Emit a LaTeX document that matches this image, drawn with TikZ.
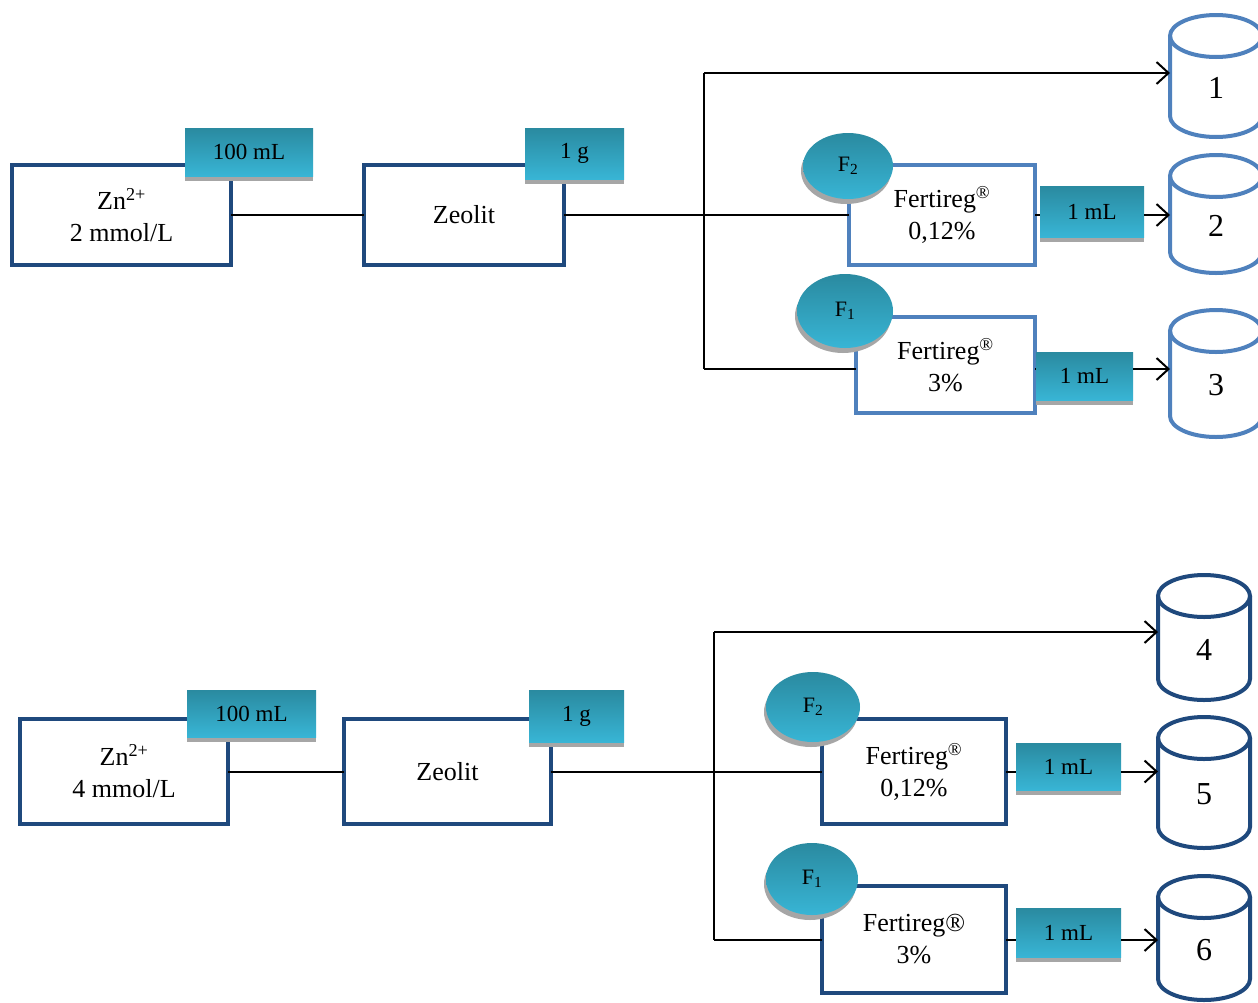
\documentclass[tikz,border=0pt]{standalone}
\usepackage{fontspec}
\setmainfont{Liberation Serif}
\usetikzlibrary{shapes.geometric,shadows,arrows.meta}
\definecolor{dblue}{HTML}{1F497D}
\definecolor{lblue}{HTML}{4F81BD}
\definecolor{tagtop}{HTML}{2A8AA0}
\definecolor{tagbot}{HTML}{38B5D5}
\definecolor{shad}{HTML}{A6A6A6}
\tikzset{
 box/.style={draw, line width=4pt, fill=white, align=center, inner sep=0pt, outer sep=0pt, font=\fontsize{26}{32}\selectfont},
 tag/.style={top color=tagtop, bottom color=tagbot, draw=none, inner sep=0pt, outer sep=0pt, font=\fontsize{23}{26}\selectfont, drop shadow={shadow xshift=0pt, shadow yshift=-5pt, fill=shad, opacity=1}},
 fell/.style={ellipse, top color=tagtop, bottom color=tagbot, draw=none, inner sep=0pt, outer sep=0pt, font=\fontsize{22}{24}\selectfont, drop shadow={shadow xshift=-2pt, shadow yshift=-5pt, fill=shad, opacity=1}},
 conn/.style={line width=2pt, black},
 arr/.style={line width=2pt, black, -{Straight Barb[length=12pt,width=22pt,line width=2pt]}},
 cylline/.style={line width=4pt},
 cyllab/.style={inner sep=0pt, outer sep=0pt, minimum width=92pt, minimum height=30pt, font=\fontsize{32}{34}\selectfont},
}
\newcommand\drawcyl[6]{%
  \pgfmathsetmacro\cylcx{#2+46}%
  \pgfmathsetmacro\cyltop{#3+21}%
  \pgfmathsetmacro\cylbot{#4-21}%
  \pgfmathsetmacro\cylrx{#2+92}%
  \pgfmathsetmacro\cylmid{(#3+#4)/2+12}%
  \draw[cylline,#6] (#2,\cyltop) -- (#2,\cylbot) arc[start angle=180,end angle=0,x radius=46,y radius=21] -- (\cylrx,\cyltop);
  \draw[cylline,#6] (\cylcx,\cyltop) ellipse[x radius=46,y radius=21];
  \node[cyllab] (#1) at (\cylcx,\cylmid) {#5};
}
\begin{document}
\begin{tikzpicture}[x=1pt,y=-1pt]
\fill[white] (0,0) rectangle (1258,1002);
\useasboundingbox (0,0) rectangle (1258,1002);

% ---------- top section ----------
\node[box, draw=dblue, minimum width=219pt, minimum height=100pt] (zn1) at (121.5,215) {Zn\textsuperscript{2+}\\2 mmol/L};
\node[box, draw=dblue, minimum width=200pt, minimum height=100pt] (zeo1) at (464,215) {Zeolit};
\node[box, draw=lblue, minimum width=186pt, minimum height=100pt] (fa1) at (942,215) {Fertireg\textsuperscript{®}\\0,12\%};
\node[box, draw=lblue, minimum width=179pt, minimum height=96pt] (fb1) at (945.5,365) {Fertireg\textsuperscript{®}\\3\%};

\node[tag, minimum width=128pt, minimum height=48pt] (tagA1) at (249,152) {100 mL};
\node[tag, minimum width=99pt, minimum height=51pt] (tagB1) at (574.5,153.5) {1 g};
\node[tag, minimum width=104pt, minimum height=51pt] (tagC1) at (1092,211.5) {1 mL};
\node[tag, minimum width=97pt, minimum height=48pt] (tagD1) at (1084.5,376) {1 mL};

\node[fell, minimum width=90pt, minimum height=66pt] (ef2a) at (848,166) {F\textsubscript{2}};
\node[fell, minimum width=96pt, minimum height=74pt] (ef1a) at (845,311) {F\textsubscript{1}};

\drawcyl{cyl1}{1170}{15}{137}{1}{lblue}
\drawcyl{cyl2}{1170}{155}{273}{2}{lblue}
\drawcyl{cyl3}{1170}{310}{437}{3}{lblue}

\coordinate (t1) at (704,73);
\coordinate (j1) at (704,215);
\coordinate (b1) at (704,369);
\draw[conn] (zn1.east) -- (zeo1.west);
\draw[conn] (zeo1.east) -- (j1);
\draw[conn] (t1) -- (b1);
\draw[arr] (t1) -- (t1 -| cyl1.west);
\draw[conn] (j1) -- (fa1.west);
\draw[conn] (b1) -- (b1 -| fb1.west);
\draw[conn] (fa1.east) -- (fa1.east -| tagC1.west);
\draw[arr] (fa1.east -| tagC1.east) -- (fa1.east -| cyl2.west);
\draw[conn] (b1 -| fb1.east) -- (b1 -| tagD1.west);
\draw[arr] (b1 -| tagD1.east) -- (b1 -| cyl3.west);

% ---------- bottom section ----------
\node[box, draw=dblue, minimum width=208pt, minimum height=105pt] (zn2) at (124,771.5) {Zn\textsuperscript{2+}\\4 mmol/L};
\node[box, draw=dblue, minimum width=207pt, minimum height=105pt] (zeo2) at (447.5,771.5) {Zeolit};
\node[box, draw=dblue, minimum width=184pt, minimum height=105pt] (fa2) at (914,771.5) {Fertireg\textsuperscript{®}\\0,12\%};
\node[box, draw=dblue, minimum width=184pt, minimum height=107pt] (fb2) at (914,939.5) {Fertireg®\\3\%};

\node[tag, minimum width=129pt, minimum height=47pt] (tagA2) at (251.5,713.5) {100 mL};
\node[tag, minimum width=95pt, minimum height=52pt] (tagB2) at (576.5,716) {1 g};
\node[tag, minimum width=105pt, minimum height=47pt] (tagC2) at (1068.5,766.5) {1 mL};
\node[tag, minimum width=105pt, minimum height=49pt] (tagD2) at (1068.5,932.5) {1 mL};

\node[fell, minimum width=94pt, minimum height=70pt] (ef2b) at (813,707) {F\textsubscript{2}};
\node[fell, minimum width=92pt, minimum height=72pt] (ef1b) at (812,879) {F\textsubscript{1}};

\drawcyl{cyl4}{1158}{575}{700}{4}{dblue}
\drawcyl{cyl5}{1158}{717}{848}{5}{dblue}
\drawcyl{cyl6}{1158}{876}{1000}{6}{dblue}

\coordinate (t2) at (714,632);
\coordinate (j2) at (714,771.5);
\coordinate (b2) at (714,940);
\draw[conn] (zn2.east) -- (zeo2.west);
\draw[conn] (zeo2.east) -- (j2);
\draw[conn] (t2) -- (b2);
\draw[arr] (t2) -- (t2 -| cyl4.west);
\draw[conn] (j2) -- (fa2.west);
\draw[conn] (b2) -- (b2 -| fb2.west);
\draw[conn] (fa2.east) -- (fa2.east -| tagC2.west);
\draw[arr] (fa2.east -| tagC2.east) -- (fa2.east -| cyl5.west);
\draw[conn] (b2 -| fb2.east) -- (b2 -| tagD2.west);
\draw[arr] (b2 -| tagD2.east) -- (b2 -| cyl6.west);
\end{tikzpicture}
\end{document}
